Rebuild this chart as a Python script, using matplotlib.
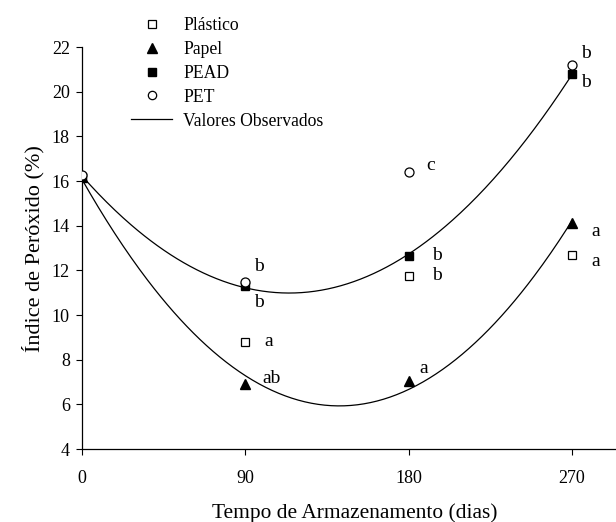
import numpy as np
import matplotlib
matplotlib.use("Agg")
import matplotlib.pyplot as plt
from matplotlib.lines import Line2D

plt.rcParams["font.family"] = ["Liberation Serif", "DejaVu Serif"]

# Storage time (days) and peroxide index (%) per packaging
dias = [0, 90, 180, 270]
plastico = [16.2, 8.8, 11.75, 12.7]
papel = [16.2, 6.9, 7.05, 14.1]
pead = [16.2, 11.3, 12.65, 20.8]
pet = [16.25, 11.5, 16.4, 21.2]

# Significance letters next to each point
letras_plastico = ["", "a", "b", "a"]
letras_papel = ["", "ab", "a", "a"]
letras_pead = ["", "b", "b", "b"]
letras_pet = ["", "b", "c", "b"]

L, B = 82, 449  # axes corner in pixels
fig = plt.figure(figsize=(6.16, 5.22), dpi=100)
ax = fig.add_axes([L / 616, 1 - B / 522, 1 - L / 616, (B - 47) / 522])
W, H = 616 - L, B - 47

# Quadratic fits drawn as the smooth curves
xs = np.linspace(0, 270, 300)
for serie in (pead, papel):
    coef = np.polyfit(dias, serie, 2)
    ax.plot(xs, np.polyval(coef, xs), color="black", lw=0.9, zorder=2)

ms = 6.5
ax.plot(dias, plastico, "s", mfc="white", mec="black", mew=0.9, ms=ms - 0.5, zorder=3)
ax.plot(dias, papel, "^", color="black", ms=ms + 1, zorder=3)
ax.plot(dias, pead, "s", color="black", ms=ms - 0.5, zorder=3)
ax.plot(dias, pet, "o", mfc="white", mec="black", mew=0.9, ms=ms, zorder=4)

# Letter offsets in points (dx, dy)
offs_pet = [None, (10, 11), (16, 5), (10, 8)]
offs_pead = [None, (10, -12), (20, 0), (10, -6)]
offs_plastico = [None, (17, 0), (20, 0), (17, -5)]
offs_papel = [None, (19, 4), (11, 9), (17, -6)]

for serie, letras, offs in [(pet, letras_pet, offs_pet), (pead, letras_pead, offs_pead),
                            (plastico, letras_plastico, offs_plastico),
                            (papel, letras_papel, offs_papel)]:
    for x, y, t, o in zip(dias, serie, letras, offs):
        if t:
            ax.annotate(t, (x, y), xytext=o, textcoords="offset points",
                        ha="center", va="center", fontsize=14)

ax.set_xlim(0, 294.2)
ax.set_ylim(4, 22)
ax.set_xticks(dias)
ax.set_yticks(range(4, 23, 2))
ax.tick_params(labelsize=13, length=4.3, width=0.8, direction="out")
ax.tick_params(axis="x", pad=10.5)
ax.tick_params(axis="y", pad=4.5)
for s in ("top", "right"):
    ax.spines[s].set_visible(False)
for s in ("left", "bottom"):
    ax.spines[s].set_linewidth(0.9)

ax.set_xlabel("Tempo de Armazenamento (dias)", fontsize=15.4)
ax.set_ylabel("Índice de Peróxido (%)", fontsize=16)
ax.xaxis.set_label_coords((355 - L) / W, -(503 - B) / H)
ax.yaxis.set_label_coords(-(L - 44) / W, (B - 249) / H)

handles = [
    Line2D([], [], ls="", marker="s", mfc="white", mec="black", mew=0.9, ms=5.5),
    Line2D([], [], ls="", marker="^", color="black", ms=7),
    Line2D([], [], ls="", marker="s", color="black", ms=5.5),
    Line2D([], [], ls="", marker="o", mfc="white", mec="black", mew=0.9, ms=6),
    Line2D([], [], color="black", lw=0.9),
]
labels = ["Plástico", "Papel", "PEAD", "PET", "Valores Observados"]
fig.legend(handles, labels, loc="upper left", bbox_to_anchor=(131 / 616, 1 - 17 / 522),
           frameon=False, fontsize=12.7, borderpad=0, borderaxespad=0,
           handlelength=2.35, handletextpad=0.6, labelspacing=0.39)

fig.savefig("out.png", dpi=100)
